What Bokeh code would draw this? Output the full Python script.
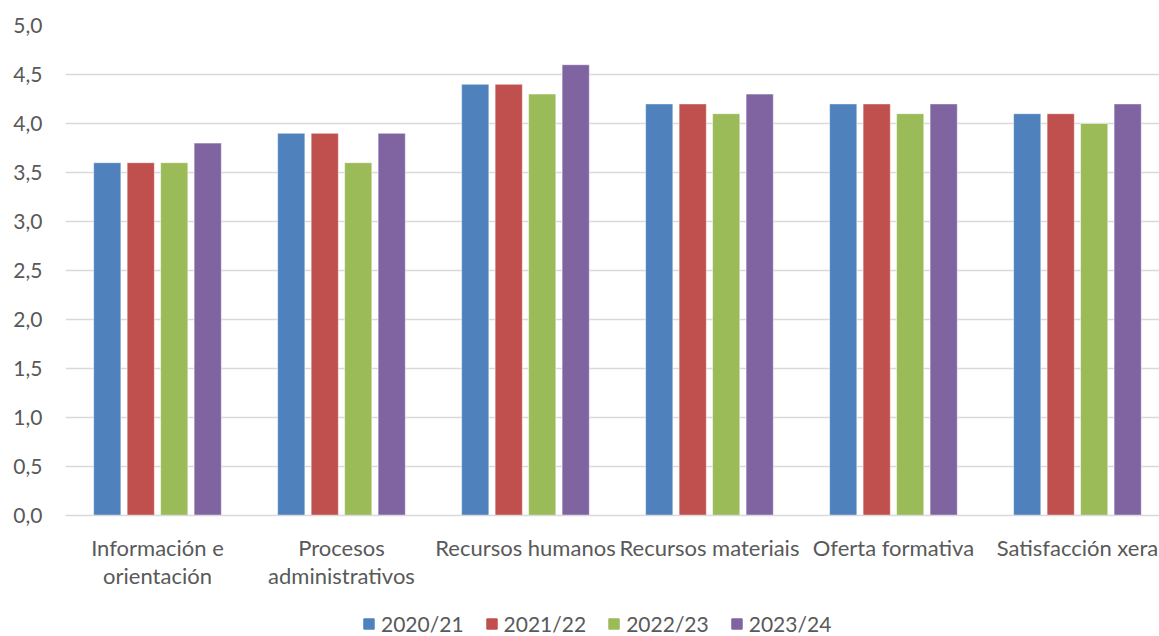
import numpy as np
from bokeh.plotting import figure
from bokeh.layouts import column
from bokeh.models import (FixedTicker, Range1d, Legend, LegendItem, ColumnDataSource,
                          CustomJSTickFormatter)
from bokeh.embed import file_html
from bokeh.resources import INLINE

categories = ["Información e\norientación", "Procesos\nadministrativos", "Recursos humanos",
              "Recursos materiais", "Oferta formativa", "Satisfacción xera"]
series = ["2020/21", "2021/22", "2022/23", "2023/24"]
v2020_21 = [3.6, 3.9, 4.4, 4.2, 4.2, 4.1]
v2021_22 = [3.6, 3.9, 4.4, 4.2, 4.2, 4.1]
v2022_23 = [3.6, 3.6, 4.3, 4.1, 4.1, 4.0]
v2023_24 = [3.8, 3.9, 4.6, 4.3, 4.2, 4.2]
y_ticks = [0.0, 0.5, 1.0, 1.5, 2.0, 2.5, 3.0, 3.5, 4.0, 4.5, 5.0]

colors = ["#4F81BD", "#C0504D", "#9BBB59", "#8064A2"]
values = [v2020_21, v2021_22, v2022_23, v2023_24]
FONT = "Lato"
TXT = "#595959"

p = figure(frame_width=1094, frame_height=490, output_backend="svg", toolbar_location=None,
           x_range=Range1d(0, 5.946), y_range=Range1d(0, 5),
           min_border_left=65, min_border_top=25, min_border_right=0, min_border_bottom=80)
p.outline_line_color = None
p.background_fill_color = "white"

step = 0.182
bw = 0.148
offsets = [-1.5, -0.5, 0.5, 1.5]
centers = np.arange(len(categories)) + 0.5
for vals, col, off in zip(values, colors, offsets):
    src = ColumnDataSource(dict(x=centers + off * step, top=vals))
    p.vbar(x="x", top="top", width=bw, bottom=0, source=src, fill_color=col,
           line_color="white", line_alpha=0.5, line_width=1)

# y axis
p.yaxis.ticker = FixedTicker(ticks=y_ticks)
p.yaxis.formatter = CustomJSTickFormatter(code="return tick.toFixed(1).replace('.', ',');")
p.yaxis.axis_line_color = None
p.yaxis.major_tick_line_color = None
p.yaxis.minor_tick_line_color = None
p.yaxis.major_label_text_font = FONT
p.yaxis.major_label_text_font_size = "21px"
p.yaxis.major_label_text_color = TXT
p.yaxis.major_label_standoff = 17

# x axis
p.xaxis.ticker = FixedTicker(ticks=list(centers))
p.xaxis.formatter = CustomJSTickFormatter(args=dict(labels=categories),
                                          code="return labels[Math.floor(tick)];")
p.xaxis.axis_line_color = "#D9D9D9"
p.xaxis.axis_line_width = 1.5
p.xaxis.major_tick_line_color = None
p.xaxis.minor_tick_line_color = None
p.xaxis.major_label_text_font = FONT
p.xaxis.major_label_text_font_size = "22px"
p.xaxis.major_label_text_line_height = 1.05
p.xaxis.major_label_text_color = TXT
p.xaxis.major_label_standoff = 12

p.xgrid.grid_line_color = None
p.ygrid.grid_line_color = "#D9D9D9"
p.ygrid.grid_line_width = 1.5
p.ygrid.ticker = FixedTicker(ticks=y_ticks)

# legend strip
lg = figure(width=1159, height=41, output_backend="svg", toolbar_location=None,
            x_range=Range1d(0, 1), y_range=Range1d(0, 1),
            x_axis_location=None, y_axis_location=None,
            min_border_left=0, min_border_right=0, min_border_top=0, min_border_bottom=0)
lg.grid.visible = False
lg.outline_line_color = None
items = []
for s, col in zip(series, colors):
    r = lg.vbar(x=[5], top=[0.5], width=0.1, fill_color=col, line_color=col)
    items.append(LegendItem(label=s, renderers=[r]))
legend = Legend(items=items, orientation="horizontal", location=(297, 0))
legend.label_text_font = FONT
legend.label_text_font_size = "21px"
legend.label_text_color = TXT
legend.glyph_width = 13
legend.glyph_height = 13
legend.label_standoff = 6
legend.spacing = 21
legend.border_line_alpha = 0
legend.background_fill_alpha = 0
legend.padding = 0
legend.margin = 0
lg.add_layout(legend, "center")

layout = column(p, lg, spacing=0)
open("out.html", "w").write(file_html(layout, INLINE))
